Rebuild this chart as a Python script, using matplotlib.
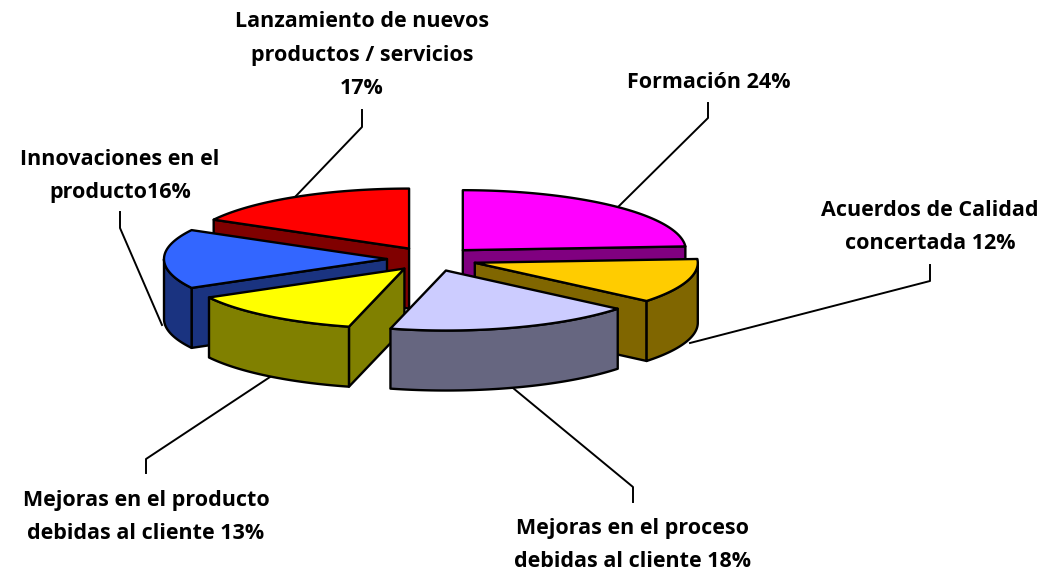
import numpy as np
import matplotlib
matplotlib.use("Agg")
import matplotlib.pyplot as plt
from matplotlib.patches import Polygon

# ---- data ----
categories = ["Formación", "Acuerdos de Calidad concertada", "Mejoras en el proceso debidas al cliente",
              "Mejoras en el producto debidas al cliente", "Innovaciones en el producto",
              "Lanzamiento de nuevos productos / servicios"]
values = [24, 12, 18, 13, 16, 17]
label_texts = ["Formación 24%", "Acuerdos de Calidad\nconcertada 12%", "Mejoras en el proceso\ndebidas al cliente 18%",
               "Mejoras en el producto\ndebidas al cliente 13%", "Innovaciones en el\nproducto16%",
               "Lanzamiento de nuevos\nproductos / servicios\n17%"]
top_colors = ["#FF00FF", "#FFCC00", "#CCCCFF", "#FFFF00", "#3366FF", "#FF0000"]
side_colors = ["#800080", "#806600", "#666680", "#808000", "#1A3380", "#800000"]

# ---- layout (pixels) ----
CX, CY = 432, 259
RX, RY = 223, 60
DEPTH = 60
EXPLODE = 45
label_pos = [(709, 83), (930, 227), (632, 545), (146, 517), (120, 176), (362, 55)]
leaders = [[(617, 208), (708, 118), (708, 103)],
           [(690, 343), (930, 281), (930, 265)],
           [(513, 388), (633, 487), (633, 502)],
           [(270, 377), (146, 459), (146, 473)],
           [(162, 325), (120, 228), (120, 212)],
           [(295, 197), (362, 127), (362, 110)]]

plt.rcParams["font.family"] = ["Open Sans", "DejaVu Sans"]
fig = plt.figure(figsize=(10.5, 5.73), dpi=100)
ax = fig.add_axes([0, 0, 1, 1])
ax.set_xlim(0, 1050)
ax.set_ylim(573, 0)
ax.axis("off")

LW = 1.7
fr = np.array(values) / sum(values) * 360
t1s = 90 - np.concatenate([[0], np.cumsum(fr)[:-1]])
t2s = t1s - fr
mids = (t1s + t2s) / 2


def rim(ax0, ay0, a, b):
    ts = np.radians(np.linspace(a, b, 80))
    return np.c_[ax0 + RX * np.cos(ts), ay0 - RY * np.sin(ts)]


def wall(p, q, color, z):
    ax.add_patch(Polygon([p, q, (q[0], q[1] + DEPTH), (p[0], p[1] + DEPTH)], closed=True,
                         fc=color, ec="k", lw=LW, joinstyle="round", zorder=z))


order = np.argsort(-np.sin(np.radians(mids)))
for k, i in enumerate(order):
    t1, t2, m = t1s[i], t2s[i], mids[i]
    ox = CX + EXPLODE * np.cos(np.radians(m))
    oy = CY - EXPLODE * RY / RX * np.sin(np.radians(m))
    apex = (ox, oy)
    z = 2 + k
    # radial walls that face the viewer
    if np.cos(np.radians(t2)) > 1e-6:
        wall(apex, rim(ox, oy, t2, t2)[0], side_colors[i], z)
    if np.cos(np.radians(t1)) < -1e-6:
        wall(apex, rim(ox, oy, t1, t1)[0], side_colors[i], z)
    # outer wall: only the front half of the rim (angles in the lower half)
    for lo, hi in [(-180, 0), (-540, -360)]:
        a, b = min(t1, hi), max(t2, lo)
        if a > b:
            arc = rim(ox, oy, a, b)
            low = arc[::-1] + [0, DEPTH]
            ax.add_patch(Polygon(np.vstack([arc, low]), closed=True, fc=side_colors[i],
                                 ec="k", lw=LW, joinstyle="round", zorder=z))
    # top
    ax.add_patch(Polygon(np.vstack([[apex], rim(ox, oy, t1, t2)]), closed=True,
                         fc=top_colors[i], ec="k", lw=LW, joinstyle="round", zorder=z))

for pts in leaders:
    xs, ys = zip(*pts)
    ax.plot(xs, ys, color="k", lw=1.4, zorder=1)

for txt, (x, y) in zip(label_texts, label_pos):
    ax.text(x, y, txt, ha="center", va="center", fontsize=15.5, fontweight="bold",
            color="k", linespacing=1.8, zorder=20)

fig.savefig("out.png", dpi=100, facecolor="white")
